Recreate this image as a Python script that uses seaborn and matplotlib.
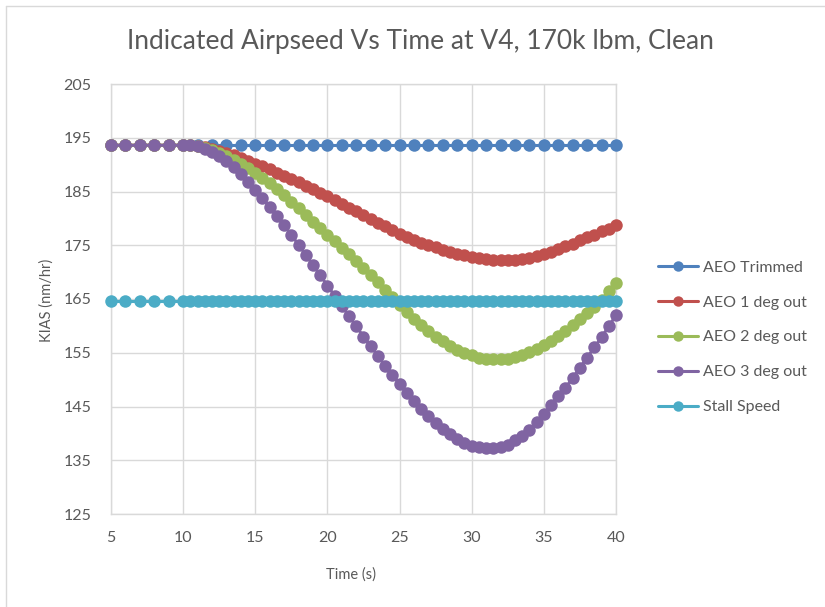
import matplotlib
matplotlib.use("Agg")
import matplotlib.pyplot as plt
import seaborn as sns
import pandas as pd
from matplotlib.lines import Line2D

# ---------------- data ----------------
time_trim = [5, 6, 7, 8, 9, 10, 11, 12, 13, 14, 15, 16, 17, 18, 19, 20, 21, 22,
             23, 24, 25, 26, 27, 28, 29, 30, 31, 32, 33, 34, 35, 36, 37, 38, 39, 40]
aeo_trimmed = [193.6] * 36

time_curve = [5, 6, 7, 8, 9,
              10.0, 10.5, 11.0, 11.5, 12.0, 12.5, 13.0, 13.5, 14.0, 14.5,
              15.0, 15.5, 16.0, 16.5, 17.0, 17.5, 18.0, 18.5, 19.0, 19.5,
              20.0, 20.5, 21.0, 21.5, 22.0, 22.5, 23.0, 23.5, 24.0, 24.5,
              25.0, 25.5, 26.0, 26.5, 27.0, 27.5, 28.0, 28.5, 29.0, 29.5,
              30.0, 30.5, 31.0, 31.5, 32.0, 32.5, 33.0, 33.5, 34.0, 34.5,
              35.0, 35.5, 36.0, 36.5, 37.0, 37.5, 38.0, 38.5, 39.0, 39.5, 40.0]

aeo_1deg = [193.6, 193.6, 193.6, 193.6, 193.6,
            193.6, 193.6, 193.5, 193.3, 193.0, 192.6, 192.2, 191.7, 191.2, 190.7,
            190.2, 189.7, 189.1, 188.5, 187.9, 187.3, 186.7, 186.1, 185.4, 184.8,
            184.1, 183.4, 182.7, 182.0, 181.3, 180.6, 179.9, 179.2, 178.5, 177.8,
            177.1, 176.5, 176.0, 175.5, 175.0, 174.6, 174.2, 173.8, 173.4, 173.1,
            172.8, 172.6, 172.4, 172.3, 172.2, 172.2, 172.3, 172.5, 172.7, 173.0,
            173.4, 173.8, 174.3, 174.8, 175.3, 175.9, 176.5, 177.0, 177.6, 178.1, 178.7]

aeo_2deg = [193.6, 193.6, 193.6, 193.6, 193.6,
            193.6, 193.6, 193.4, 193.1, 192.7, 192.2, 191.6, 190.9, 190.1, 189.3,
            188.4, 187.5, 186.5, 185.4, 184.3, 183.1, 181.9, 180.7, 179.4, 178.2,
            177.0, 175.7, 174.5, 173.3, 172.0, 170.7, 169.4, 168.1, 166.7, 165.3,
            163.9, 162.6, 161.3, 160.1, 159.0, 158.0, 157.1, 156.3, 155.6, 155.0,
            154.5, 154.1, 153.9, 153.8, 153.8, 153.9, 154.2, 154.6, 155.1, 155.7,
            156.4, 157.2, 158.1, 159.1, 160.1, 161.2, 162.4, 163.6, 164.9, 166.4, 168.0]

aeo_3deg = [193.6, 193.6, 193.6, 193.6, 193.6,
            193.6, 193.6, 193.4, 193.0, 192.4, 191.6, 190.6, 189.5, 188.2, 186.8,
            185.3, 183.7, 182.1, 180.4, 178.7, 176.9, 175.1, 173.2, 171.3, 169.4,
            167.5, 165.6, 163.7, 161.8, 159.9, 158.0, 156.2, 154.4, 152.6, 150.9,
            149.2, 147.6, 146.0, 144.6, 143.2, 142.0, 140.8, 139.8, 138.9, 138.2,
            137.7, 137.4, 137.3, 137.3, 137.5, 137.9, 138.7, 139.6, 140.7, 142.1,
            143.6, 145.3, 147.0, 148.5, 150.3, 152.2, 154.1, 156.0, 157.9, 159.9, 162.0]

stall_speed = [164.7] * len(time_curve)

series_names = ["AEO Trimmed", "AEO 1 deg out", "AEO 2 deg out", "AEO 3 deg out", "Stall Speed"]
series_colors = ["#4F81BD", "#C0504D", "#9BBB59", "#8064A2", "#4BACC6"]

x_ticks = [5, 10, 15, 20, 25, 30, 35, 40]
y_ticks = [125, 135, 145, 155, 165, 175, 185, 195, 205]

# ---------------- frame ----------------
frames = [pd.DataFrame({"Time": time_trim, "KIAS": aeo_trimmed, "Series": series_names[0]})]
for name, vals in zip(series_names[1:], [aeo_1deg, aeo_2deg, aeo_3deg, stall_speed]):
    frames.append(pd.DataFrame({"Time": time_curve, "KIAS": vals, "Series": name}))
df = pd.concat(frames, ignore_index=True)

sns.set_theme(style="white")
plt.rcParams["font.family"] = ["Lato", "DejaVu Sans"]

fig = plt.figure(figsize=(8.25, 6.07), dpi=100)
ax = fig.add_axes([111 / 825, 1 - 514 / 607, (616 - 111) / 825, (514 - 84) / 607])

grid_c = "#D9D9D9"
text_c = "#595959"

sns.lineplot(data=df, x="Time", y="KIAS", hue="Series", hue_order=series_names,
             palette=series_colors, marker="o", markersize=9, markeredgewidth=0,
             linewidth=2.2, sort=False, ax=ax, legend=False, zorder=3)

ax.set_xlim(5, 40)
ax.set_ylim(125, 205)
ax.set_xticks(x_ticks)
ax.set_yticks(y_ticks)
ax.grid(True, color=grid_c, linewidth=1.0)
ax.set_axisbelow(True)
for s in ax.spines.values():
    s.set_color(grid_c)
    s.set_linewidth(1.0)
ax.tick_params(axis="both", length=0, labelsize=11.5, colors=text_c)
ax.tick_params(axis="x", pad=12)
ax.tick_params(axis="y", pad=14)
for lab in ax.get_xticklabels() + ax.get_yticklabels():
    lab.set_color(text_c)
for ln in ax.lines:
    ln.set_clip_on(False)

ax.set_xlabel("")
ax.set_ylabel("")
fig.text(351 / 825, 1 - 575 / 607, "Time (s)", ha="center", va="center",
         fontsize=10.5, color=text_c)
fig.text(47 / 825, 1 - 300 / 607, "KIAS (nm/hr)", ha="center", va="center",
         rotation=90, fontsize=10.5, color=text_c)

fig.text(420 / 825, 1 - 42 / 607, "Indicated Airpseed Vs Time at V4, 170k lbm, Clean",
         ha="center", va="center", fontsize=19, color=text_c)

handles = [Line2D([0], [0], color=c, marker="o", markersize=7.5, markeredgewidth=0, linewidth=2.2)
           for c in series_colors]
leg = fig.legend(handles, series_names, loc="upper left", bbox_to_anchor=(652 / 825, 1 - 254 / 607),
                 frameon=False, fontsize=11.5, handlelength=2.5, handletextpad=0.3,
                 labelspacing=1.3, borderaxespad=0)
for t in leg.get_texts():
    t.set_color(text_c)

# chart-area border (left and top visible)
fig.add_artist(Line2D([6 / 825, 6 / 825], [0, 1 - 6 / 607], transform=fig.transFigure,
                      color="#D9D9D9", linewidth=1.0))
fig.add_artist(Line2D([6 / 825, 1], [1 - 6 / 607, 1 - 6 / 607], transform=fig.transFigure,
                      color="#D9D9D9", linewidth=1.0))

fig.savefig("out.png", dpi=100, facecolor="white")
